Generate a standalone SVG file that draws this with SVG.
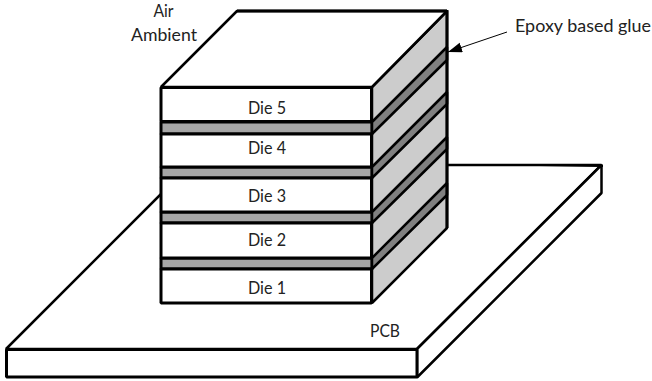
<svg xmlns="http://www.w3.org/2000/svg" width="652" height="381" viewBox="0 0 652 381">
<style>
.s{stroke:#000;stroke-width:3;stroke-linejoin:bevel}
.d{stroke:#000;stroke-width:2.500;stroke-linejoin:bevel}
.w{fill:#fff}
.gf{fill:#a6a6a6}
.gs{fill:#808080}
.ss{fill:#ccc}
text{font-family:Lato,"Liberation Sans",sans-serif;font-size:16.500px;fill:#222;text-anchor:middle}
</style>
<defs><marker id="a" markerUnits="userSpaceOnUse" markerWidth="16" markerHeight="12" refX="14" refY="5" orient="auto"><path d="M0 0L14 5L0 10z" fill="#000"/></marker></defs>
<rect width="652" height="381" fill="#fff"/>
<g id="pcb">
<path class="d w" d="M6 349L190 165H601.500L417 349z"/>
<path class="d w" d="M417 349L601.500 165V193L417 377.500z"/>
<path d="M447 164.500H603V167H601z" fill="#000"/>
<rect class="s w" x="6.500" y="349.500" width="410.500" height="27.500"/>
<text x="385" y="337" textLength="30" lengthAdjust="spacingAndGlyphs">PCB</text>
</g>
<g id="stack-side">
<path class="d ss" d="M372 87L447 11V228L372 303z"/>
<path class="d w" d="M161 87L237 11H447L372 87z"/>
<path d="M237 11H447" fill="none" stroke="#000" stroke-width="3"/>
</g>
<g id="glue-4">
<path class="s gf" d="M161 122H372V134H161z"/>
<path class="d gs" d="M372 122L447 47V60L372 134z"/>
</g>
<g id="glue-3">
<path class="s gf" d="M161 167H372V178H161z"/>
<path class="d gs" d="M372 167L447 92V104L372 178z"/>
</g>
<g id="glue-2">
<path class="s gf" d="M161 212H372V223H161z"/>
<path class="d gs" d="M372 212L447 137V149L372 223z"/>
</g>
<g id="glue-1">
<path class="s gf" d="M161 258H372V269H161z"/>
<path class="d gs" d="M372 258L447 183V195L372 269z"/>
</g>
<path d="M447 10V228" fill="none" stroke="#000" stroke-width="3"/>
<g id="die-5"><rect class="s w" x="161" y="87.500" width="210.500" height="34"/><text x="267" y="113.500" textLength="38" lengthAdjust="spacingAndGlyphs">Die 5</text></g>
<g id="die-4"><rect class="s w" x="161" y="134" width="210.500" height="33"/><text x="267" y="154" textLength="38" lengthAdjust="spacingAndGlyphs">Die 4</text></g>
<g id="die-3"><rect class="s w" x="161" y="178" width="210.500" height="34"/><text x="267" y="202" textLength="38" lengthAdjust="spacingAndGlyphs">Die 3</text></g>
<g id="die-2"><rect class="s w" x="161" y="223" width="210.500" height="35"/><text x="267" y="246" textLength="38" lengthAdjust="spacingAndGlyphs">Die 2</text></g>
<g id="die-1"><rect class="s w" x="161" y="269" width="210.500" height="34"/><text x="267" y="294" textLength="38" lengthAdjust="spacingAndGlyphs">Die 1</text></g>
<g id="air"><text x="163.500" y="17" textLength="20" lengthAdjust="spacingAndGlyphs">Air</text><text x="164" y="41" textLength="66" lengthAdjust="spacingAndGlyphs">Ambient</text></g>
<g id="glue-label"><text x="583" y="32" textLength="136" lengthAdjust="spacingAndGlyphs">Epoxy based glue</text></g>
<g id="connectors"><line x1="507" y1="32" x2="448" y2="52" stroke="#000" stroke-width="1" marker-end="url(#a)"/></g>
</svg>
